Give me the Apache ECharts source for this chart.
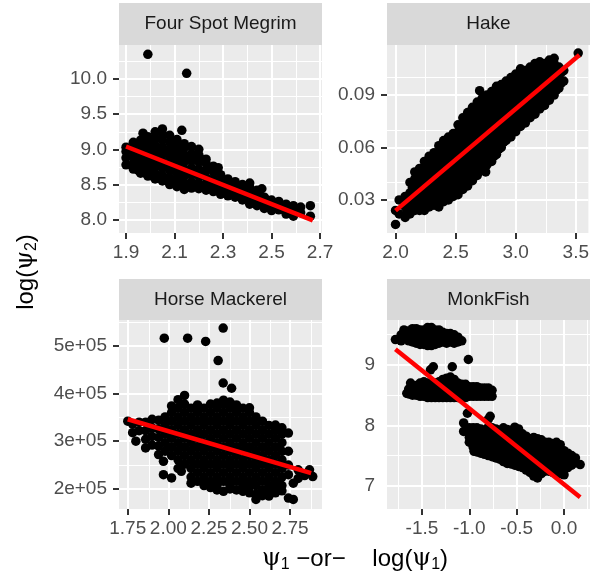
<!DOCTYPE html>
<html><head><meta charset="utf-8">
<script src="https://cdn.jsdelivr.net/npm/echarts@6/dist/echarts.min.js"></script>
<style>html,body{margin:0;padding:0;background:#fff}#c{width:592px;height:583px}</style>
</head><body><div id="c"></div>
<script>
// ---------- DATA ----------
const panelTitles = ['Four Spot Megrim', 'Hake', 'Horse Mackerel', 'MonkFish'];

const megrimPts = [
[1.90,8.78],[1.90,8.88],[1.90,8.97],[1.90,9.03],
[1.93,8.72],[1.93,8.80],[1.93,8.90],[1.93,9.00],[1.93,9.10],
[1.96,8.66],[1.96,8.75],[1.96,8.85],[1.96,8.95],[1.96,9.05],[1.96,9.13],[1.97,9.23],
[1.99,8.62],[1.99,8.70],[1.99,8.80],[1.99,8.90],[1.99,9.00],[1.99,9.10],[1.99,9.18],
[2.02,8.58],[2.02,8.66],[2.02,8.76],[2.02,8.86],[2.02,8.96],[2.02,9.06],[2.02,9.16],[2.02,9.25],
[2.05,8.55],[2.05,8.63],[2.05,8.73],[2.05,8.83],[2.05,8.93],[2.05,9.03],[2.05,9.13],[2.05,9.22],[2.05,9.29],
[2.08,8.50],[2.08,8.60],[2.08,8.70],[2.08,8.80],[2.08,8.90],[2.08,9.00],[2.08,9.10],[2.08,9.20],
[2.11,8.47],[2.11,8.56],[2.11,8.66],[2.11,8.76],[2.11,8.86],[2.11,8.96],[2.11,9.06],[2.11,9.14],
[2.13,9.27],
[2.14,8.43],[2.14,8.52],[2.14,8.62],[2.14,8.72],[2.14,8.82],[2.14,8.92],[2.14,9.02],[2.14,9.08],
[2.17,8.45],[2.17,8.54],[2.17,8.64],[2.17,8.74],[2.17,8.84],[2.17,8.94],[2.17,9.04],
[2.20,8.44],[2.20,8.52],[2.20,8.62],[2.20,8.72],[2.20,8.82],[2.20,8.92],[2.20,9.00],
[2.23,8.42],[2.23,8.50],[2.23,8.60],[2.23,8.70],[2.23,8.80],[2.23,8.86],
[2.26,8.40],[2.26,8.48],[2.26,8.58],[2.26,8.68],[2.26,8.76],
[2.29,8.36],[2.29,8.44],[2.29,8.54],[2.29,8.64],[2.28,8.74],
[2.32,8.34],[2.32,8.42],[2.32,8.50],[2.32,8.58],
[2.35,8.32],[2.35,8.40],[2.35,8.48],[2.35,8.54],
[2.38,8.28],[2.38,8.36],[2.38,8.44],[2.38,8.50],
[2.41,8.22],[2.41,8.30],[2.41,8.38],[2.41,8.46],[2.41,8.52],
[2.44,8.20],[2.44,8.28],[2.44,8.36],[2.44,8.42],[2.46,8.44],
[2.47,8.16],[2.47,8.24],[2.47,8.32],
[2.50,8.13],[2.50,8.20],[2.50,8.28],
[2.53,8.14],[2.53,8.22],[2.53,8.26],
[2.56,8.08],[2.56,8.16],[2.56,8.22],
[2.59,8.05],[2.59,8.13],[2.59,8.20],
[2.62,8.10],[2.62,8.18],
[2.66,8.05],[2.66,8.20],
[1.95,8.70],[1.98,8.66],[2.01,8.62],[2.04,8.59],[2.07,8.55],[2.10,8.51],[2.13,8.48],[2.16,8.49],[2.19,8.48],
[2.00,8.85],[2.03,8.81],[2.06,8.78],[2.09,8.75],[2.12,8.71],[2.15,8.68],[2.18,8.69],[2.21,8.66],
[2.00,9.05],[2.03,9.01],[2.06,8.98],[2.09,8.95],[2.12,8.91],[2.15,8.88],[2.18,8.89],[2.21,8.86],
[2.24,8.55],[2.27,8.52],[2.30,8.49],[2.33,8.46],[2.36,8.44],[2.39,8.40],[2.42,8.34],[2.45,8.32],[2.48,8.28],
[1.99,10.35],[2.15,10.08]
];
const megrimFit = [[1.90,9.04],[2.67,7.99]];

const hakePts = [
[2.00,0.016],[2.00,0.024],
[2.03,0.022],[2.03,0.030],
[2.08,0.020],[2.08,0.026],[2.08,0.032],
[2.10,0.023],[2.10,0.029],
[2.12,0.022],[2.12,0.028],[2.12,0.034],[2.12,0.040],
[2.14,0.025],[2.14,0.031],[2.14,0.037],
[2.16,0.024],[2.16,0.030],[2.16,0.036],[2.16,0.042],[2.16,0.046],
[2.18,0.027],[2.18,0.033],[2.18,0.039],[2.18,0.044],
[2.20,0.024],[2.20,0.030],[2.20,0.036],[2.20,0.042],[2.20,0.048],
[2.22,0.027],[2.22,0.033],[2.22,0.039],[2.22,0.045],
[2.24,0.024],[2.24,0.030],[2.24,0.036],[2.24,0.042],[2.24,0.048],[2.24,0.052],
[2.26,0.027],[2.26,0.033],[2.26,0.039],[2.26,0.045],[2.26,0.050],
[2.28,0.026],[2.28,0.032],[2.28,0.038],[2.28,0.044],[2.28,0.050],[2.28,0.055],
[2.30,0.029],[2.30,0.035],[2.30,0.041],[2.30,0.047],[2.30,0.053],
[2.32,0.027],[2.32,0.033],[2.32,0.039],[2.32,0.045],[2.32,0.051],[2.32,0.057],
[2.34,0.030],[2.34,0.036],[2.34,0.042],[2.34,0.048],[2.34,0.054],
[2.36,0.026],[2.36,0.032],[2.36,0.038],[2.36,0.044],[2.36,0.050],[2.36,0.056],[2.36,0.061],
[2.38,0.029],[2.38,0.035],[2.38,0.041],[2.38,0.047],[2.38,0.053],[2.38,0.058],
[2.40,0.029],[2.40,0.035],[2.40,0.041],[2.40,0.047],[2.40,0.053],[2.40,0.059],[2.40,0.064],
[2.42,0.032],[2.42,0.038],[2.42,0.044],[2.42,0.050],[2.42,0.056],[2.42,0.062],
[2.44,0.030],[2.44,0.036],[2.44,0.042],[2.44,0.048],[2.44,0.054],[2.44,0.060],[2.44,0.066],
[2.46,0.033],[2.46,0.039],[2.46,0.045],[2.46,0.051],[2.46,0.057],[2.46,0.063],
[2.48,0.032],[2.48,0.038],[2.48,0.044],[2.48,0.050],[2.48,0.056],[2.48,0.062],[2.48,0.068],
[2.50,0.035],[2.50,0.041],[2.50,0.047],[2.50,0.053],[2.50,0.059],[2.50,0.065],
[2.52,0.033],[2.52,0.039],[2.52,0.045],[2.52,0.051],[2.52,0.057],[2.52,0.063],[2.52,0.069],[2.52,0.073],
[2.54,0.036],[2.54,0.042],[2.54,0.048],[2.54,0.054],[2.54,0.060],[2.54,0.066],[2.54,0.071],
[2.56,0.036],[2.56,0.042],[2.56,0.048],[2.56,0.054],[2.56,0.060],[2.56,0.066],[2.56,0.072],[2.56,0.077],
[2.58,0.039],[2.58,0.045],[2.58,0.051],[2.58,0.057],[2.58,0.063],[2.58,0.069],[2.58,0.075],
[2.60,0.038],[2.60,0.044],[2.60,0.050],[2.60,0.056],[2.60,0.062],[2.60,0.068],[2.60,0.074],[2.60,0.080],
[2.62,0.041],[2.62,0.047],[2.62,0.053],[2.62,0.059],[2.62,0.065],[2.62,0.071],[2.62,0.077],
[2.64,0.041],[2.64,0.047],[2.64,0.053],[2.64,0.059],[2.64,0.065],[2.64,0.071],[2.64,0.077],[2.64,0.083],
[2.66,0.044],[2.66,0.050],[2.66,0.056],[2.66,0.062],[2.66,0.068],[2.66,0.074],[2.66,0.080],
[2.68,0.044],[2.68,0.050],[2.68,0.056],[2.68,0.062],[2.68,0.068],[2.68,0.074],[2.68,0.080],[2.68,0.086],
[2.70,0.047],[2.70,0.053],[2.70,0.059],[2.70,0.065],[2.70,0.071],[2.70,0.077],[2.70,0.083],
[2.70,0.0925],
[2.72,0.047],[2.72,0.053],[2.72,0.059],[2.72,0.065],[2.72,0.071],[2.72,0.077],[2.72,0.083],[2.72,0.088],
[2.74,0.050],[2.74,0.056],[2.74,0.062],[2.74,0.068],[2.74,0.074],[2.74,0.080],[2.74,0.086],
[2.75,0.046],
[2.76,0.050],[2.76,0.056],[2.76,0.062],[2.76,0.068],[2.76,0.074],[2.76,0.080],[2.76,0.086],[2.76,0.090],
[2.78,0.053],[2.78,0.059],[2.78,0.065],[2.78,0.071],[2.78,0.077],[2.78,0.083],[2.78,0.088],
[2.80,0.052],[2.80,0.058],[2.80,0.064],[2.80,0.070],[2.80,0.076],[2.80,0.082],[2.80,0.088],[2.80,0.092],
[2.82,0.055],[2.82,0.061],[2.82,0.067],[2.82,0.073],[2.82,0.079],[2.82,0.085],[2.82,0.090],
[2.84,0.056],[2.84,0.062],[2.84,0.068],[2.84,0.074],[2.84,0.080],[2.84,0.086],[2.84,0.092],[2.84,0.095],
[2.86,0.059],[2.86,0.065],[2.86,0.071],[2.86,0.077],[2.86,0.083],[2.86,0.089],[2.86,0.093],
[2.88,0.060],[2.88,0.066],[2.88,0.072],[2.88,0.078],[2.88,0.084],[2.88,0.090],[2.88,0.096],
[2.90,0.063],[2.90,0.069],[2.90,0.075],[2.90,0.081],[2.90,0.087],[2.90,0.093],
[2.92,0.064],[2.92,0.070],[2.92,0.076],[2.92,0.082],[2.92,0.088],[2.92,0.094],[2.92,0.098],
[2.94,0.067],[2.94,0.073],[2.94,0.079],[2.94,0.085],[2.94,0.091],[2.94,0.096],
[2.96,0.066],[2.96,0.072],[2.96,0.078],[2.96,0.084],[2.96,0.090],[2.96,0.096],[2.96,0.100],
[2.98,0.069],[2.98,0.075],[2.98,0.081],[2.98,0.087],[2.98,0.093],[2.98,0.098],
[3.00,0.069],[3.00,0.075],[3.00,0.081],[3.00,0.087],[3.00,0.093],[3.00,0.099],[3.00,0.102],
[3.02,0.072],[3.02,0.078],[3.02,0.084],[3.02,0.090],[3.02,0.096],[3.02,0.101],
[3.04,0.072],[3.04,0.078],[3.04,0.084],[3.04,0.090],[3.04,0.096],[3.04,0.102],[3.04,0.105],
[3.06,0.075],[3.06,0.081],[3.06,0.087],[3.06,0.093],[3.06,0.099],[3.06,0.103],
[3.08,0.074],[3.08,0.080],[3.08,0.086],[3.08,0.092],[3.08,0.098],[3.08,0.104],
[3.10,0.077],[3.10,0.083],[3.10,0.089],[3.10,0.095],[3.10,0.101],
[3.12,0.077],[3.12,0.083],[3.12,0.089],[3.12,0.095],[3.12,0.101],[3.12,0.106],
[3.14,0.080],[3.14,0.086],[3.14,0.092],[3.14,0.098],[3.14,0.104],
[3.16,0.079],[3.16,0.085],[3.16,0.091],[3.16,0.097],[3.16,0.103],[3.16,0.108],
[3.18,0.082],[3.18,0.088],[3.18,0.094],[3.18,0.100],[3.18,0.106],
[3.20,0.082],[3.20,0.088],[3.20,0.094],[3.20,0.100],[3.20,0.106],[3.20,0.109],
[3.22,0.085],[3.22,0.091],[3.22,0.097],[3.22,0.103],[3.22,0.107],
[3.24,0.084],[3.24,0.090],[3.24,0.096],[3.24,0.102],[3.24,0.108],
[3.26,0.087],[3.26,0.093],[3.26,0.099],[3.26,0.105],
[3.28,0.087],[3.28,0.093],[3.28,0.099],[3.28,0.105],[3.28,0.110],
[3.30,0.090],[3.30,0.096],[3.30,0.102],[3.30,0.108],
[3.32,0.090],[3.32,0.096],[3.32,0.102],[3.32,0.108],[3.32,0.111],
[3.34,0.093],[3.34,0.099],[3.34,0.105],
[3.36,0.094],[3.36,0.100],[3.36,0.106],
[3.38,0.097],[3.38,0.103],
[3.40,0.098],[3.40,0.104],
[3.52,0.114]
];
const hakeFit = [[2.00,0.0239],[3.53,0.1129]];

const horsePts = [
[1.75,342000],
[1.78,318000],[1.78,336000],[1.80,300000],
[1.82,322000],[1.82,340000],
[1.86,286000],[1.86,304000],[1.86,322000],[1.86,340000],
[1.90,292000],[1.90,310000],[1.90,328000],[1.90,346000],
[1.94,272000],[1.94,290000],[1.94,308000],[1.94,326000],[1.94,344000],
[1.97,230000],[1.97,258000],
[1.98,279000],[1.98,297000],[1.98,315000],[1.98,333000],[1.98,351000],
[2.02,223000],[2.02,270000],[2.02,288000],[2.02,306000],[2.02,324000],[2.02,342000],[2.02,360000],[2.02,374000],
[2.06,243000],[2.06,261000],[2.06,279000],[2.06,297000],[2.06,315000],[2.06,333000],[2.06,351000],[2.06,369000],[2.06,387000],
[2.08,237000],
[2.10,252000],[2.10,270000],[2.10,288000],[2.10,306000],[2.10,324000],[2.10,342000],[2.10,360000],[2.10,378000],[2.10,396000],
[2.14,212000],[2.14,225000],[2.14,243000],[2.14,261000],[2.14,279000],[2.14,297000],[2.14,315000],[2.14,333000],[2.14,351000],[2.14,369000],
[2.18,216000],[2.18,234000],[2.18,252000],[2.18,270000],[2.18,288000],[2.18,306000],[2.18,324000],[2.18,342000],[2.18,360000],[2.18,376000],
[2.22,207000],[2.22,225000],[2.22,243000],[2.22,261000],[2.22,279000],[2.22,297000],[2.22,315000],[2.22,333000],[2.22,351000],[2.22,369000],
[2.26,203000],[2.26,216000],[2.26,234000],[2.26,252000],[2.26,270000],[2.26,288000],[2.26,306000],[2.26,324000],[2.26,342000],[2.26,360000],[2.26,378000],
[2.30,198000],[2.30,207000],[2.30,225000],[2.30,243000],[2.30,261000],[2.30,279000],[2.30,297000],[2.30,315000],[2.30,333000],[2.30,351000],[2.30,369000],[2.30,380000],
[2.34,195000],[2.34,216000],[2.34,234000],[2.34,252000],[2.34,270000],[2.34,288000],[2.34,306000],[2.34,324000],[2.34,342000],[2.34,360000],[2.34,378000],[2.34,386000],
[2.38,200000],[2.38,207000],[2.38,225000],[2.38,243000],[2.38,261000],[2.38,279000],[2.38,297000],[2.38,315000],[2.38,333000],[2.38,351000],[2.38,369000],[2.38,382000],
[2.42,198000],[2.42,216000],[2.42,234000],[2.42,252000],[2.42,270000],[2.42,288000],[2.42,306000],[2.42,324000],[2.42,342000],[2.42,360000],[2.42,376000],
[2.46,195000],[2.46,207000],[2.46,225000],[2.46,243000],[2.46,261000],[2.46,279000],[2.46,297000],[2.46,315000],[2.46,333000],[2.46,351000],[2.46,369000],
[2.50,192000],[2.50,204000],[2.50,216000],[2.50,234000],[2.50,252000],[2.50,270000],[2.50,288000],[2.50,306000],[2.50,324000],[2.50,342000],[2.50,360000],[2.50,370000],
[2.54,178000],[2.54,189000],[2.54,207000],[2.54,225000],[2.54,243000],[2.54,261000],[2.54,279000],[2.54,297000],[2.54,315000],[2.54,333000],[2.54,351000],
[2.58,186000],[2.58,198000],[2.58,216000],[2.58,234000],[2.58,252000],[2.58,270000],[2.58,288000],[2.58,306000],[2.58,324000],[2.58,342000],
[2.62,185000],[2.62,196000],[2.62,207000],[2.62,225000],[2.62,243000],[2.62,261000],[2.62,279000],[2.62,297000],[2.62,315000],[2.62,333000],
[2.66,192000],[2.66,204000],[2.66,216000],[2.66,234000],[2.66,252000],[2.66,270000],[2.66,288000],[2.66,306000],[2.66,324000],[2.66,334000],
[2.70,196000],[2.70,207000],[2.70,225000],[2.70,243000],[2.70,261000],[2.70,279000],[2.70,297000],[2.70,315000],[2.70,328000],
[2.74,181000],[2.74,230000],[2.74,250000],[2.74,279000],[2.74,317000],
[2.77,178000],[2.77,212000],
[2.80,222000],[2.80,240000],
[2.84,228000],[2.87,240000],[2.89,226000],
[1.975,516000],[2.119,516000],[2.23,509000],[2.338,537000],[2.307,469000],[2.338,422000],[2.39,411000]
];
const horseFit = [[1.75,346000],[2.88,233000]];

const monkPts = [
[-1.78,9.42],[-1.69,9.58],
[-1.72,9.40],[-1.72,9.50],
[-1.68,9.44],[-1.68,9.54],
[-1.64,9.40],[-1.64,9.48],[-1.64,9.56],
[-1.60,9.38],[-1.60,9.46],[-1.60,9.54],[-1.60,9.60],
[-1.56,9.36],[-1.56,9.44],[-1.56,9.52],[-1.56,9.60],
[-1.52,9.34],[-1.52,9.42],[-1.52,9.50],[-1.52,9.58],
[-1.48,9.34],[-1.48,9.42],[-1.48,9.50],[-1.48,9.58],
[-1.44,9.32],[-1.44,9.40],[-1.44,9.48],[-1.44,9.56],[-1.44,9.62],
[-1.40,9.32],[-1.40,9.40],[-1.40,9.48],[-1.40,9.56],[-1.40,9.62],
[-1.36,9.34],[-1.36,9.42],[-1.36,9.50],[-1.36,9.58],
[-1.32,9.36],[-1.32,9.44],[-1.32,9.52],[-1.32,9.58],
[-1.28,9.38],[-1.28,9.46],[-1.28,9.54],
[-1.24,9.36],[-1.24,9.44],[-1.24,9.52],
[-1.20,9.38],[-1.20,9.46],[-1.20,9.52],
[-1.16,9.36],[-1.16,9.44],[-1.16,9.50],
[-1.12,9.38],[-1.12,9.46],
[-1.08,9.40],
[-1.38,8.97],[-1.41,8.92],[-1.18,8.97],[-1.01,9.09],
[-1.66,8.53],[-1.62,8.70],
[-1.64,8.52],[-1.64,8.60],
[-1.60,8.50],[-1.60,8.58],[-1.60,8.66],
[-1.56,8.50],[-1.56,8.58],[-1.56,8.66],
[-1.52,8.48],[-1.52,8.56],[-1.52,8.64],[-1.52,8.70],
[-1.48,8.48],[-1.48,8.56],[-1.48,8.64],[-1.48,8.72],
[-1.44,8.46],[-1.44,8.54],[-1.44,8.62],[-1.44,8.70],
[-1.40,8.46],[-1.40,8.54],[-1.40,8.62],[-1.40,8.70],
[-1.36,8.46],[-1.36,8.54],[-1.36,8.62],[-1.36,8.70],
[-1.32,8.46],[-1.32,8.54],[-1.32,8.62],[-1.32,8.72],
[-1.28,8.46],[-1.28,8.54],[-1.28,8.62],[-1.28,8.70],[-1.28,8.76],
[-1.24,8.46],[-1.24,8.54],[-1.24,8.62],[-1.24,8.70],[-1.24,8.78],
[-1.20,8.46],[-1.20,8.54],[-1.20,8.62],[-1.20,8.70],[-1.20,8.80],
[-1.16,8.46],[-1.16,8.54],[-1.16,8.62],[-1.16,8.70],[-1.16,8.76],
[-1.12,8.46],[-1.12,8.54],[-1.12,8.62],[-1.12,8.70],
[-1.08,8.46],[-1.08,8.54],[-1.08,8.62],[-1.08,8.68],
[-1.04,8.46],[-1.04,8.54],[-1.04,8.62],[-1.04,8.68],
[-1.00,8.48],[-1.00,8.56],[-1.00,8.64],
[-0.96,8.48],[-0.96,8.56],[-0.96,8.64],
[-0.92,8.48],[-0.92,8.56],[-0.92,8.64],
[-0.88,8.48],[-0.88,8.56],[-0.88,8.62],
[-0.84,8.48],[-0.84,8.56],[-0.84,8.62],
[-0.80,8.48],[-0.80,8.56],[-0.80,8.62],
[-0.76,8.48],[-0.76,8.58],
[-1.06,8.04],[-1.06,7.90],[-1.02,8.20],[-0.78,8.15],[-0.80,8.10],[-0.95,7.57],
[-1.00,7.72],[-1.00,7.80],[-1.00,7.88],[-1.00,7.96],
[-0.96,7.64],[-0.96,7.72],[-0.96,7.80],[-0.96,7.88],[-0.96,7.96],
[-0.92,7.56],[-0.92,7.64],[-0.92,7.72],[-0.92,7.80],[-0.92,7.88],[-0.92,7.96],
[-0.88,7.54],[-0.88,7.62],[-0.88,7.70],[-0.88,7.78],[-0.88,7.86],[-0.88,7.94],
[-0.84,7.52],[-0.84,7.60],[-0.84,7.68],[-0.84,7.76],[-0.84,7.84],[-0.84,7.92],
[-0.80,7.50],[-0.80,7.58],[-0.80,7.66],[-0.80,7.74],[-0.80,7.82],[-0.80,7.90],[-0.80,7.97],
[-0.76,7.48],[-0.76,7.56],[-0.76,7.64],[-0.76,7.72],[-0.76,7.80],[-0.76,7.88],[-0.76,7.96],
[-0.72,7.46],[-0.72,7.54],[-0.72,7.62],[-0.72,7.70],[-0.72,7.78],[-0.72,7.86],[-0.72,7.94],
[-0.68,7.44],[-0.68,7.52],[-0.68,7.60],[-0.68,7.68],[-0.68,7.76],[-0.68,7.84],[-0.68,7.92],
[-0.64,7.40],[-0.64,7.48],[-0.64,7.56],[-0.64,7.64],[-0.64,7.72],[-0.64,7.80],[-0.64,7.88],[-0.64,7.96],
[-0.60,7.37],[-0.60,7.45],[-0.60,7.53],[-0.60,7.61],[-0.60,7.69],[-0.60,7.77],[-0.60,7.85],[-0.60,7.93],
[-0.56,7.36],[-0.56,7.44],[-0.56,7.52],[-0.56,7.60],[-0.56,7.68],[-0.56,7.76],[-0.56,7.84],[-0.56,7.92],
[-0.52,7.34],[-0.52,7.42],[-0.52,7.50],[-0.52,7.58],[-0.52,7.66],[-0.52,7.74],[-0.52,7.82],[-0.52,7.90],[-0.52,7.97],
[-0.48,7.32],[-0.48,7.40],[-0.48,7.48],[-0.48,7.56],[-0.48,7.64],[-0.48,7.72],[-0.48,7.80],[-0.48,7.88],[-0.48,7.94],
[-0.44,7.30],[-0.44,7.38],[-0.44,7.46],[-0.44,7.54],[-0.44,7.62],[-0.44,7.70],[-0.44,7.78],[-0.44,7.86],
[-0.40,7.26],[-0.40,7.34],[-0.40,7.42],[-0.40,7.50],[-0.40,7.58],[-0.40,7.66],[-0.40,7.74],[-0.40,7.82],
[-0.36,7.22],[-0.36,7.30],[-0.36,7.38],[-0.36,7.46],[-0.36,7.54],[-0.36,7.62],[-0.36,7.70],[-0.36,7.78],
[-0.32,7.16],[-0.32,7.24],[-0.32,7.32],[-0.32,7.40],[-0.32,7.48],[-0.32,7.56],[-0.32,7.64],[-0.32,7.72],[-0.32,7.80],
[-0.28,7.13],[-0.28,7.22],[-0.28,7.30],[-0.28,7.38],[-0.28,7.46],[-0.28,7.54],[-0.28,7.62],[-0.28,7.70],[-0.28,7.78],
[-0.24,7.20],[-0.24,7.28],[-0.24,7.36],[-0.24,7.44],[-0.24,7.52],[-0.24,7.60],[-0.24,7.68],[-0.24,7.76],
[-0.20,7.24],[-0.20,7.32],[-0.20,7.40],[-0.20,7.48],[-0.20,7.56],[-0.20,7.64],[-0.20,7.72],
[-0.16,7.24],[-0.16,7.32],[-0.16,7.40],[-0.16,7.48],[-0.16,7.56],[-0.16,7.64],[-0.16,7.72],
[-0.12,7.22],[-0.12,7.30],[-0.12,7.38],[-0.12,7.46],[-0.12,7.54],[-0.12,7.62],[-0.12,7.70],
[-0.08,7.22],[-0.08,7.30],[-0.08,7.38],[-0.08,7.46],[-0.08,7.54],[-0.08,7.62],[-0.08,7.72],
[-0.04,7.20],[-0.04,7.28],[-0.04,7.36],[-0.04,7.44],[-0.04,7.52],[-0.04,7.60],[-0.04,7.68],
[0.00,7.18],[0.00,7.26],[0.00,7.34],[0.00,7.42],[0.00,7.50],[0.00,7.58],
[0.04,7.30],[0.04,7.38],[0.04,7.46],[0.04,7.54],
[0.08,7.34],[0.08,7.42],[0.08,7.50],
[0.12,7.38],[0.12,7.46],
[0.17,7.35]
];
const monkFit = [[-1.78,9.26],[0.17,6.81]];

// tick values and labels
const megrimXTicks = [1.9, 2.1, 2.3, 2.5, 2.7];
const megrimXLabels = ['1.9', '2.1', '2.3', '2.5', '2.7'];
const megrimXMinor = [2.0, 2.2, 2.4, 2.6];
const megrimYTicks = [8.0, 8.5, 9.0, 9.5, 10.0];
const megrimYLabels = ['8.0', '8.5', '9.0', '9.5', '10.0'];
const megrimYMinor = [8.25, 8.75, 9.25, 9.75, 10.25];

const hakeXTicks = [2.0, 2.5, 3.0, 3.5];
const hakeXLabels = ['2.0', '2.5', '3.0', '3.5'];
const hakeXMinor = [2.25, 2.75, 3.25];
const hakeYTicks = [0.03, 0.06, 0.09];
const hakeYLabels = ['0.03', '0.06', '0.09'];
const hakeYMinor = [0.015, 0.045, 0.075, 0.105];

const horseXTicks = [1.75, 2.00, 2.25, 2.50, 2.75];
const horseXLabels = ['1.75', '2.00', '2.25', '2.50', '2.75'];
const horseXMinor = [1.875, 2.125, 2.375, 2.625, 2.875];
const horseYTicks = [200000, 300000, 400000, 500000];
const horseYLabels = ['2e+05', '3e+05', '4e+05', '5e+05'];
const horseYMinor = [250000, 350000, 450000, 550000];

const monkXTicks = [-1.5, -1.0, -0.5, 0.0];
const monkXLabels = ['-1.5', '-1.0', '-0.5', '0.0'];
const monkXMinor = [-1.75, -1.25, -0.75, -0.25, 0.25];
const monkYTicks = [7, 8, 9];
const monkYLabels = ['7', '8', '9'];
const monkYMinor = [7.5, 8.5, 9.5];

// ---------- LAYOUT / STYLE ----------
const FONT = '"Liberation Sans", Arial, sans-serif';
const panels = [
  {pts: megrimPts, fit: megrimFit, xr: [1.871, 2.708], yr: [7.811, 10.483],
   xt: megrimXTicks, xl: megrimXLabels, xm: megrimXMinor, yt: megrimYTicks, yl: megrimYLabels, ym: megrimYMinor,
   grid: {left: 119, top: 45, width: 203, height: 188}, strip: {x: 119, y: 3, w: 203, h: 42}},
  {pts: hakePts, fit: hakeFit, xr: [1.929, 3.605], yr: [0.0111, 0.1186],
   xt: hakeXTicks, xl: hakeXLabels, xm: hakeXMinor, yt: hakeYTicks, yl: hakeYLabels, ym: hakeYMinor,
   grid: {left: 387, top: 45, width: 203, height: 188}, strip: {x: 387, y: 3, w: 203, h: 42}},
  {pts: horsePts, fit: horseFit, xr: [1.696, 2.947], yr: [158000, 554000],
   xt: horseXTicks, xl: horseXLabels, xm: horseXMinor, yt: horseYTicks, yl: horseYLabels, ym: horseYMinor,
   grid: {left: 119, top: 320, width: 203, height: 189}, strip: {x: 119, y: 279, w: 203, h: 41}},
  {pts: monkPts, fit: monkFit, xr: [-1.869, 0.274], yr: [6.615, 9.744],
   xt: monkXTicks, xl: monkXLabels, xm: monkXMinor, yt: monkYTicks, yl: monkYLabels, ym: monkYMinor,
   grid: {left: 387, top: 320, width: 203, height: 189}, strip: {x: 387, y: 279, w: 203, h: 41}}
];

function lookup(ticks, labels) {
  return function (v) {
    for (let k = 0; k < ticks.length; k++) if (Math.abs(ticks[k] - v) < 1e-9 * Math.max(1, Math.abs(v))) return labels[k];
    return '';
  };
}

const grids = [], xAxes = [], yAxes = [], series = [], graphics = [];
panels.forEach((p, i) => {
  grids.push(Object.assign({show: true, backgroundColor: '#EBEBEB', borderWidth: 0, containLabel: false}, p.grid));
  const axisCommon = (ticks, labels) => ({
    type: 'value',
    gridIndex: i,
    axisLine: {show: false},
    axisTick: {show: true, customValues: ticks, length: 6, lineStyle: {color: '#333333', width: 2}},
    axisLabel: {show: true, customValues: ticks, formatter: lookup(ticks, labels), color: '#4D4D4D', fontSize: 19, fontFamily: FONT},
    splitLine: {show: false},
    minorSplitLine: {show: false}
  });
  const xa = axisCommon(p.xt, p.xl);
  xa.min = p.xr[0]; xa.max = p.xr[1]; xa.axisLabel.margin = 10;
  const ya = axisCommon(p.yt, p.yl);
  ya.min = p.yr[0]; ya.max = p.yr[1]; ya.axisLabel.margin = 12;
  xAxes.push(xa); yAxes.push(ya);

  const gl = [];
  p.xm.forEach(v => gl.push({xAxis: v, lineStyle: {color: '#FFFFFF', width: 1, type: 'solid'}}));
  p.ym.forEach(v => gl.push({yAxis: v, lineStyle: {color: '#FFFFFF', width: 1, type: 'solid'}}));
  p.xt.forEach(v => gl.push({xAxis: v, lineStyle: {color: '#FFFFFF', width: 2, type: 'solid'}}));
  p.yt.forEach(v => gl.push({yAxis: v, lineStyle: {color: '#FFFFFF', width: 2, type: 'solid'}}));
  series.push({
    type: 'scatter', xAxisIndex: i, yAxisIndex: i, data: [], z: 1, silent: true,
    markLine: {silent: true, z: 1, symbol: ['none', 'none'], label: {show: false}, animation: false, data: gl}
  });
  series.push({
    type: 'scatter', xAxisIndex: i, yAxisIndex: i, data: p.pts, z: 3,
    symbol: 'circle', symbolSize: 9.5, itemStyle: {color: '#000000', opacity: 1}, silent: true
  });
  series.push({
    type: 'line', xAxisIndex: i, yAxisIndex: i, data: p.fit, z: 4,
    symbol: 'none', lineStyle: {color: '#FF0000', width: 4.5}, silent: true
  });
  graphics.push({type: 'rect', shape: {x: p.strip.x, y: p.strip.y, width: p.strip.w, height: p.strip.h}, style: {fill: '#D9D9D9'}, z: 0});
  graphics.push({type: 'text', style: {x: p.strip.x + p.strip.w / 2, y: p.strip.y + p.strip.h / 2, text: panelTitles[i],
    textAlign: 'center', textVerticalAlign: 'middle', fill: '#1A1A1A', fontSize: 19, fontFamily: FONT}, z: 1});
});

// axis titles
const titleRich = {
  g: {fontSize: 24, fontFamily: '"DejaVu Serif", "Liberation Serif", serif', fill: '#000'},
  s: {fontSize: 16, fontFamily: FONT, verticalAlign: 'bottom', padding: [11, 0, 0, 0], fill: '#000'}
};
graphics.push({type: 'text', x: 26, y: 272, rotation: Math.PI / 2,
  style: {text: 'log({g|ψ}{s|2})', textAlign: 'center', textVerticalAlign: 'middle', fill: '#000000', fontSize: 24, fontFamily: FONT, rich: titleRich}});
graphics.push({type: 'text', x: 355, y: 559,
  style: {text: '{g|ψ}{s|1} −or−    log({g|ψ}{s|1})', textAlign: 'center', textVerticalAlign: 'middle', fill: '#000000', fontSize: 24, fontFamily: FONT, rich: titleRich}});

const chart = echarts.init(document.getElementById('c'), null, {renderer: 'canvas'});
chart.setOption({
  animation: false,
  backgroundColor: '#FFFFFF',
  grid: grids, xAxis: xAxes, yAxis: yAxes, series: series, graphic: graphics
});
</script>
</body></html>
